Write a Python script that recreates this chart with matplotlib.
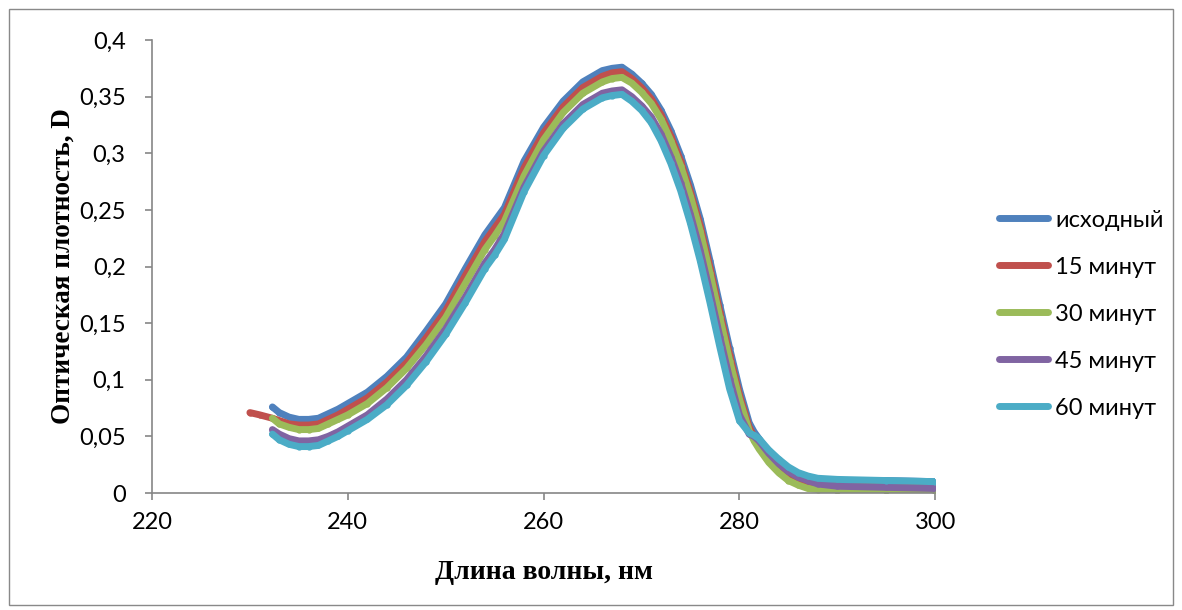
import numpy as np
import matplotlib.pyplot as plt
from matplotlib.patches import Rectangle

nan = np.nan

# wavelength, nm
wavelength = [230, 231, 232.3, 233, 234, 235, 236, 237, 238, 239, 240, 242, 244,
              246, 248, 250, 252, 254, 255, 256, 258, 260, 262, 264, 266, 267,
              268, 269, 270, 271, 272, 273, 274, 275, 276, 277, 278, 279, 280,
              281, 281.5, 282, 283, 284, 285, 286, 287, 288, 290, 295, 300]

d_initial = [nan, nan, 0.076, 0.071, 0.067, 0.065, 0.065, 0.066, 0.070, 0.074,
             0.079, 0.089, 0.103, 0.120, 0.143, 0.167, 0.198, 0.228, 0.240,
             0.252, 0.293, 0.323, 0.346, 0.363, 0.373, 0.375, 0.376, 0.370,
             0.362, 0.352, 0.338, 0.320, 0.298, 0.272, 0.242, 0.205, 0.166,
             0.128, 0.092, 0.062, 0.054, 0.048, 0.036, 0.027, 0.020, 0.016,
             0.013, 0.012, 0.011, 0.011, 0.010]

d_15 = [0.071, 0.069, 0.066, 0.064, 0.061, 0.060, 0.060, 0.061, 0.065, 0.069,
        0.074, 0.084, 0.098, 0.115, 0.137, 0.161, 0.192, 0.222, 0.234, 0.246,
        0.287, 0.318, 0.341, 0.358, 0.368, 0.371, 0.372, 0.366, 0.358, 0.348,
        0.334, 0.315, 0.293, 0.266, 0.236, 0.199, 0.160, 0.122, 0.087, 0.058,
        0.050, 0.044, 0.032, 0.023, 0.016, 0.012, 0.009, 0.008, 0.007, 0.006,
        0.005]

d_30 = [nan, nan, 0.066, 0.061, 0.058, 0.056, 0.056, 0.057, 0.061, 0.065,
        0.069, 0.079, 0.093, 0.110, 0.131, 0.155, 0.185, 0.215, 0.227, 0.240,
        0.280, 0.312, 0.336, 0.353, 0.363, 0.366, 0.367, 0.362, 0.354, 0.344,
        0.330, 0.311, 0.289, 0.262, 0.231, 0.194, 0.155, 0.117, 0.083, 0.055,
        0.046, 0.039, 0.027, 0.018, 0.011, 0.007, 0.004, 0.003, 0.002, 0.002,
        0.0005]

d_45 = [nan, nan, 0.056, 0.052, 0.048, 0.046, 0.046, 0.047, 0.050, 0.054,
        0.059, 0.069, 0.083, 0.100, 0.121, 0.145, 0.173, 0.203, 0.215, 0.229,
        0.270, 0.302, 0.326, 0.343, 0.353, 0.355, 0.356, 0.350, 0.342, 0.332,
        0.317, 0.297, 0.274, 0.246, 0.214, 0.177, 0.138, 0.101, 0.069, 0.052,
        0.050, 0.046, 0.035, 0.026, 0.019, 0.014, 0.011, 0.008, 0.006, 0.005,
        0.004]

d_60 = [nan, nan, 0.052, 0.047, 0.043, 0.041, 0.041, 0.042, 0.046, 0.050,
        0.055, 0.065, 0.078, 0.095, 0.116, 0.140, 0.168, 0.198, 0.210, 0.224,
        0.266, 0.298, 0.322, 0.339, 0.349, 0.351, 0.352, 0.346, 0.338, 0.327,
        0.311, 0.291, 0.267, 0.238, 0.205, 0.168, 0.129, 0.092, 0.064, 0.053,
        0.051, 0.048, 0.038, 0.030, 0.023, 0.018, 0.015, 0.013, 0.012, 0.011,
        0.010]

series_names = ['исходный', '15 минут', '30 минут', '45 минут', '60 минут']
series_colors = ['#4F81BD', '#C0504D', '#9BBB59', '#8064A2', '#4BACC6']

x_ticks = [220, 240, 260, 280, 300]
y_ticks = [0, 0.05, 0.1, 0.15, 0.2, 0.25, 0.3, 0.35, 0.4]
y_tick_labels = ['0', '0,05', '0,1', '0,15', '0,2', '0,25', '0,3', '0,35', '0,4']

fig = plt.figure(figsize=(11.82, 6.10), dpi=100)
ax = fig.add_axes([0.1286, 0.1918, 0.6626, 0.7426])

# outer chart frame
fig.patches.append(Rectangle((0.008, 0.008), 0.984, 0.978,
                             transform=fig.transFigure, fill=False,
                             edgecolor='#898989', linewidth=1.0))

all_series = [d_initial, d_15, d_30, d_45, d_60]
for vals, name, col in zip(all_series, series_names, series_colors):
    ax.plot(wavelength, vals, color=col, linewidth=5.0, marker='o',
            markersize=3.5, solid_capstyle='round', solid_joinstyle='round',
            label=name)

ax.set_xlim(220, 300)
ax.set_ylim(0, 0.4)
ax.set_xticks(x_ticks)
ax.set_yticks(y_ticks)
ax.set_yticklabels(y_tick_labels)

for s in ['top', 'right']:
    ax.spines[s].set_visible(False)
for s in ['left', 'bottom']:
    ax.spines[s].set_color('#868686')
    ax.spines[s].set_linewidth(1.2)

ax.tick_params(axis='both', direction='out', color='#868686', length=5,
               width=1.2, labelsize=17)
ax.tick_params(axis='x', pad=9)
ax.tick_params(axis='y', pad=14)
for lab in ax.get_xticklabels() + ax.get_yticklabels():
    lab.set_family('Lato')

ax.set_xlabel('Длина волны, нм', family='Liberation Serif', fontweight='bold',
              fontsize=20, labelpad=19)
ax.set_ylabel('Оптическая плотность, D', family='Liberation Serif',
              fontweight='bold', fontsize=19.5, labelpad=2)

leg = ax.legend(loc='center left', bbox_to_anchor=(1.054, 0.395), frameon=False,
                prop={'family': 'Lato', 'size': 17}, handlelength=2.1,
                handletextpad=0.3, labelspacing=1.1)

fig.savefig('out.png', dpi=100)
